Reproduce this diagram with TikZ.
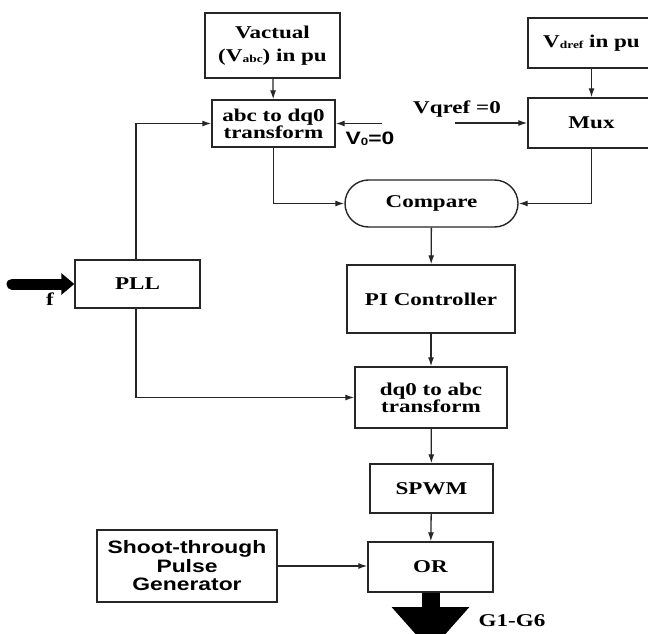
\documentclass[tikz,border=0pt]{standalone}
\usepackage{fontspec}
\setmainfont{Liberation Serif}[FakeStretch=1.28]
\newfontfamily\sansb{Liberation Sans}[FakeStretch=1.27]
\usetikzlibrary{arrows.meta,shapes.misc}
\newcommand{\smallsub}[1]{\raisebox{-1.5pt}{\fontsize{10.5}{10.5}\selectfont #1}}
\begin{document}
\begin{tikzpicture}[x=1pt,y=-1pt,
  blk/.style={draw=black!85,line width=1.4pt,fill=white,inner sep=0pt,align=center,
    font=\fontsize{18}{17}\selectfont\bfseries},
  sblk/.style={blk,font=\fontsize{18}{18.5}\selectfont\sansb\bfseries},
  lbl/.style={inner sep=0pt,font=\fontsize{18}{18}\selectfont\bfseries},
  conn/.style={draw=black!85,line width=1.3pt,-{Latex[length=9pt,width=6pt]}},
  wire/.style={draw=black!85,line width=1.3pt}]
\clip (0,0) rectangle (648,634);
% blocks
\node[blk,minimum width=135pt,minimum height=65pt,font=\fontsize{18}{23}\selectfont\bfseries] (vact) at (272.5,45.5) {Vactual\\(V\smallsub{abc}) in pu};
\node[blk,minimum width=123pt,minimum height=47pt] (abc) at (273.5,123.5) {abc to dq0\\transform};
\node[blk,minimum width=127pt,minimum height=50pt] (vdref) at (591.5,43) {V\smallsub{dref} in pu};
\node[blk,minimum width=127pt,minimum height=50pt] (mux) at (591.5,123) {Mux};
\node[blk,rounded rectangle,minimum width=173pt,minimum height=47pt] (cmp) at (431.5,203.5) {Compare};
\node[blk,minimum width=168pt,minimum height=68pt] (pi) at (431,299) {PI Controller};
\node[blk,minimum width=125pt,minimum height=48pt] (pll) at (137.5,284) {PLL};
\node[blk,minimum width=152pt,minimum height=61pt] (dq0) at (431,397.5) {dq0 to abc\\transform};
\node[blk,minimum width=123pt,minimum height=49pt] (spwm) at (431.5,488.5) {SPWM};
\node[blk,minimum width=125pt,minimum height=50pt] (or) at (430.5,567) {OR};
\node[sblk,minimum width=180pt,minimum height=72pt] (shoot) at (187,566) {Shoot-through\\Pulse\\Generator};
% labels
\node[lbl,font=\fontsize{18}{18}\selectfont\sansb\bfseries] (v0) at (370,139) {V\smallsub{0}=0};
\node[lbl] (vq) at (457,109) {Vqref =0};
\node[lbl] (fl) at (50,299) {f};
\node[lbl] (gl) at (512,621) {G1-G6};
% free ends
\coordinate (v0s) at (382,123.5);
\coordinate (vqs) at (455,123);
\coordinate (fin) at (12,284);
\coordinate (gout) at (430.5,651);
% connectors
\draw[conn] (vact) -- (abc);
\draw[conn] (v0s) -- (abc.east);
\draw[conn] (vqs) -- (mux.west);
\draw[conn] (vdref) -- (mux);
\draw[conn] (pll.north -| 136,0) |- (abc.west);
\draw[conn] (abc.south) |- (cmp.west);
\draw[conn] (mux.south) |- (cmp.east);
\draw[conn] (cmp) -- (pi);
\draw[conn] (pi) -- (dq0);
\draw[conn] (pll.south -| 136,0) |- (dq0.west);
\draw[conn] (dq0) -- (spwm);
\draw[conn] (spwm) -- (or);
\draw[conn] (shoot.east) -- (shoot.east -| or.west);
\draw[line width=11pt,line cap=round,-{Triangle[length=13pt 0 0,width=21pt 0 0]}] (fin) -- (pll.west);
\draw[line width=18pt,-{Triangle[length=44pt 0 0,width=75pt 0 0]}] (or.south) -- (gout);
\end{tikzpicture}
\end{document}
